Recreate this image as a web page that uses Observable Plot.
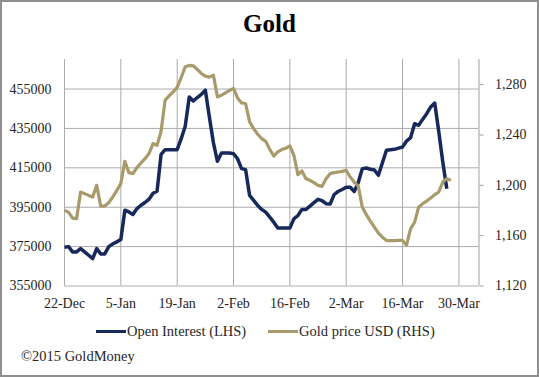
<!DOCTYPE html>
<html>
<head>
<meta charset="utf-8">
<script src="https://cdn.jsdelivr.net/npm/d3@7"></script>
<script src="https://cdn.jsdelivr.net/npm/@observablehq/plot@0.6"></script>
<style>
  html, body { margin: 0; padding: 0; background: #fff; }
  #wrap { position: relative; width: 539px; height: 377px; overflow: hidden; background: #fff;
          font-family: "Liberation Serif", "Times New Roman", serif; color: #262626; }
  #border { position: absolute; left: 0; top: 0; width: 539px; height: 377px; box-sizing: border-box;
            border: 2px solid #8f8f8f; pointer-events: none; }
  #title { position: absolute; left: 0; width: 539px; top: 9px; text-align: center;
           font-size: 25px; font-weight: bold; color: #000; line-height: 30px; }
  #chart { position: absolute; left: 0; top: 0; }
  #chart svg, #chart svg text { font-family: "Liberation Serif", "Times New Roman", serif !important; }
  .leg { position: absolute; top: 322px; font-size: 14.5px; line-height: 18px; white-space: nowrap; color: #262626; }
  .sw { display: inline-block; width: 30px; height: 3px; vertical-align: middle; margin-right: 1px; position: relative; top: -1px; }
  #caption { position: absolute; left: 21px; top: 347px; font-size: 14.5px; line-height: 18px; color: #262626; }
</style>
</head>
<body>
<div id="wrap">
  <div id="chart"></div>
  <div id="title">Gold</div>
  <div class="leg" style="left:96px"><span class="sw" style="background:#17285a"></span>Open Interest (LHS)</div>
  <div class="leg" style="left:268px"><span class="sw" style="background:#a89a6b"></span>Gold price USD (RHS)</div>
  <div id="caption">©2015 GoldMoney</div>
  <div id="border"></div>
</div>
<script>
// ---- data (daily points starting 22-Dec-2014) ----
const startDate = "2014-12-22";
const openInterest = [
  374700, 375000, 372300, 372300, 374000, 372300, 370600, 368900, 374000, 371300,
  371300, 375000, 376400, 377400, 378600, 393500, 392600, 391300, 394300, 396000,
  397400, 399100, 402100, 403100, 421800, 424200, 424200, 424200, 424200, 429800,
  436100, 451000, 448900, 450700, 452300, 454400, 440800, 427800, 418300, 422500,
  422500, 422500, 422200, 419600, 414600, 414100, 401000, 398500, 395900, 393900,
  392500, 390000, 387400, 384400, 384400, 384400, 384400, 389100, 390800, 393900,
  393900, 395600, 397300, 399000, 398300, 396800, 396600, 401400, 403000, 404000,
  405100, 405100, 403000, 407500, 414600, 414900, 414300, 413900, 411200, 417600,
  423900, 424200, 424400, 425000, 425600, 428600, 430300, 437400, 436600, 439600,
  442500, 445900, 447900, 433500, 418000, 404400
];
const goldPrice = [
  1180.1, 1178.7, 1174.0, 1173.5, 1194.7, 1193.4, 1192.0, 1190.7, 1200.0, 1183.5,
  1183.5, 1186.2, 1190.7, 1196.0, 1201.4, 1219.1, 1210.1, 1209.3, 1214.1, 1217.8,
  1221.2, 1225.2, 1233.2, 1231.8, 1243.0, 1267.7, 1271.1, 1274.3, 1277.8, 1285.7,
  1294.2, 1295.3, 1295.0, 1292.1, 1288.9, 1286.8, 1286.0, 1287.6, 1270.3, 1271.6,
  1273.5, 1275.4, 1277.0, 1269.5, 1265.5, 1265.0, 1250.4, 1245.1, 1240.6, 1237.1,
  1235.0, 1228.6, 1223.3, 1226.5, 1228.4, 1229.4, 1231.3, 1223.9, 1208.5, 1211.4,
  1205.3, 1204.0, 1202.1, 1200.0, 1199.2, 1205.3, 1209.3, 1210.1, 1210.6, 1211.1,
  1211.9, 1206.6, 1202.6, 1199.4, 1182.7, 1176.7, 1171.6, 1166.8, 1162.0, 1158.8,
  1156.2, 1156.0, 1156.0, 1156.2, 1156.2, 1152.4, 1165.5, 1170.8, 1182.7, 1185.4,
  1187.5, 1189.9, 1192.6, 1194.7, 1202.6, 1205.3, 1204.0
];
const xTickLabels = ["22-Dec", "5-Jan", "19-Jan", "2-Feb", "16-Feb", "2-Mar", "16-Mar", "30-Mar"];
const xTickDates = ["2014-12-22", "2015-01-05", "2015-01-19", "2015-02-02", "2015-02-16", "2015-03-02", "2015-03-16", "2015-03-30"];
const xDomain = ["2014-12-22", "2015-04-04"];
const leftTicks = [355000, 375000, 395000, 415000, 435000, 455000];
const leftDomain = [355000, 470000];
const rightTicks = [1120, 1160, 1200, 1240, 1280];
const rightDomain = [1120, 1300];

// ---- build ----
const parse = d3.utcParse("%Y-%m-%d");
const t0 = parse(startDate);
const oiData = openInterest.map((v, i) => ({date: d3.utcDay.offset(t0, i), v}));
const goldData = goldPrice.map((v, i) => ({date: d3.utcDay.offset(t0, i), v}));
const toLeft = g => leftDomain[0] + (g - rightDomain[0]) * (leftDomain[1] - leftDomain[0]) / (rightDomain[1] - rightDomain[0]);
const fromLeft = y => rightDomain[0] + (y - leftDomain[0]) * (rightDomain[1] - rightDomain[0]) / (leftDomain[1] - leftDomain[0]);
const tickDates = xTickDates.map(parse);
const labelOf = new Map(tickDates.map((d, i) => [+d, xTickLabels[i]]));
const xEnd = parse(xDomain[1]);
const gridColor = "#ababab";

const chart = Plot.plot({
  width: 539,
  height: 310,
  marginLeft: 64,
  marginRight: 60.5,
  marginTop: 59,
  marginBottom: 24.5,
  style: {fontFamily: "'Liberation Serif', 'Times New Roman', serif", fontSize: "14px", color: "#262626", background: "transparent"},
  x: {type: "utc", domain: xDomain.map(parse), label: null},
  y: {domain: leftDomain, label: null},
  marks: [
    Plot.ruleY(leftTicks, {stroke: gridColor, strokeWidth: 1}),
    Plot.ruleX(tickDates, {stroke: gridColor, strokeWidth: 1}),
    Plot.ruleX([xEnd], {stroke: "#a0a0a0", strokeWidth: 1}),
    Plot.axisY(leftTicks, {anchor: "left", label: null, tickSize: 0, tickPadding: 13, tickFormat: d => String(d), fontSize: 14, fill: "#262626"}),
    Plot.axisY(rightTicks.map(toLeft), {anchor: "right", label: null, tickSize: 4, tickPadding: 12, stroke: "#a0a0a0",
      tickFormat: d => d3.format(",.0f")(fromLeft(d)), fontSize: 14, fill: "#262626", textAnchor: "start"}),
    Plot.axisX(tickDates, {label: null, tickSize: 0, tickPadding: 12, tickFormat: d => labelOf.get(+d), fontSize: 14, fill: "#262626"}),
    Plot.line(oiData, {x: "date", y: "v", stroke: "#17285a", strokeWidth: 3.5, strokeLinejoin: "round", strokeLinecap: "butt"}),
    Plot.line(goldData, {x: "date", y: d => toLeft(d.v), stroke: "#a89a6b", strokeWidth: 3.2, strokeLinejoin: "round", strokeLinecap: "butt"})
  ]
});
document.getElementById("chart").appendChild(chart);
</script>
</body>
</html>
